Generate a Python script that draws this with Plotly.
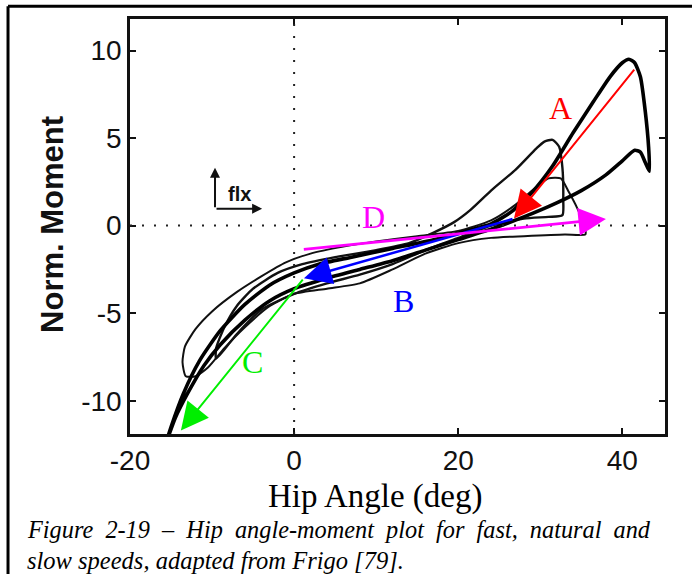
import plotly.graph_objects as go

# ---------------- data ----------------
fast_x = [-15.6, -14.5, -13.0, -11.0, -9.0, -6.0, -3.0, 0.0, 4.0, 8.0, 12.0, 16.0, 20.0, 24.0, 28.0,
          32.0, 35.0, 38.0, 40.0, 41.5, 42.2, 42.8, 43.3, 43.2, 42.8, 42.2, 41.5, 40.8, 40.0, 38.5,
          36.5, 34.0, 31.5, 29.0, 26.5, 24.0, 21.0, 17.0, 12.0, 7.0, 3.0, 0.0, -3.0, -6.0, -9.0,
          -11.5, -13.5, -15.0, -15.6]
fast_y = [-12.4, -11.0, -9.6, -8.0, -6.8, -5.4, -4.3, -3.6, -3.0, -2.5, -2.0, -1.4, -0.8, -0.2, 0.5,
          1.3, 2.0, 2.9, 3.7, 4.3, 4.2, 3.6, 3.1, 4.5, 6.5, 8.5, 9.3, 9.5, 9.3, 8.5,
          7.1, 5.3, 3.4, 1.9, 0.8, 0.1, -0.3, -0.8, -1.3, -1.8, -2.2, -2.7, -3.4, -4.5, -6.0,
          -7.7, -9.6, -11.5, -12.4]

natural_x = [-9.5, -7.0, -4.0, 0.0, 4.0, 8.0, 12.0, 16.0, 20.0, 24.0, 28.0, 31.0, 32.7, 32.8, 32.7,
             32.3, 31.5, 30.5, 29.5, 27.0, 24.0, 21.5, 19.5, 17.0, 14.0, 10.0, 5.0, 1.0, -2.0,
             -5.0, -7.0, -8.5, -9.5, -9.5]
natural_y = [-7.6, -6.2, -4.8, -3.9, -3.3, -2.8, -2.2, -1.4, -0.7, 0.0, 0.4, 0.5, 0.6, 1.5, 3.3,
             4.5, 4.9, 4.8, 4.4, 3.2, 2.0, 0.9, 0.2, -0.4, -1.0, -1.4, -1.8, -2.2, -2.7,
             -3.6, -4.6, -5.8, -7.0, -7.6]

slow_x = [-13.2, -13.6, -13.3, -12.0, -10.0, -7.0, -4.0, -1.0, 2.0, 6.0, 10.0, 15.0, 20.0, 24.0,
          27.0, 29.5, 31.0, 32.5, 33.5, 34.5, 35.4, 35.5, 33.0, 28.0, 24.0, 20.0, 16.0, 12.0, 8.0,
          4.0, 0.0, -3.0, -6.0, -8.5, -10.5, -12.0, -13.2]
slow_y = [-8.6, -7.8, -6.9, -5.9, -4.9, -3.8, -2.9, -2.1, -1.6, -1.2, -0.9, -0.6, -0.3, 0.3,
          1.2, 2.2, 2.7, 2.7, 1.9, 1.0, 0.0, -0.5, -0.5, -0.6, -0.7, -1.0, -1.6, -2.5, -3.3,
          -3.6, -3.9, -4.6, -5.8, -7.0, -8.1, -8.6, -8.6]

# phase arrows: label, tail (x, y), tip (x, y), label position, colour
arrow_labels = ["A", "B", "C", "D"]
arrow_tail_x = [41.6, 26.8, 1.2, 1.0]
arrow_tail_y = [9.0, 0.4, -3.0, -1.37]
arrow_tip_x = [26.8, 1.2, -13.8, 38.0]
arrow_tip_y = [0.4, -3.0, -11.7, 0.38]
label_x = [32.5, 13.3, -5.1, 9.7]
label_y = [6.7, -4.3, -7.8, 0.5]
arrow_colors = ["#ff0000", "#0000ff", "#00ee00", "#ff00ff"]
arrow_widths = [2.0, 2.5, 2.0, 2.8]

x_ticks = [-20, 0, 20, 40]
y_ticks = [-10, -5, 0, 5, 10]
x_range = [-20.0, 45.2]
y_range = [-11.9, 11.8]

caption_1 = "Figure 2-19 – Hip angle-moment plot for fast, natural and"
caption_2 = "slow speeds, adapted from Frigo [79]."

# ---------------- figure ----------------
fig = go.Figure()
fig.add_trace(go.Scatter(x=slow_x, y=slow_y, mode="lines",
                         line=dict(color="#111", width=2.0, shape="spline", smoothing=0.6)))
fig.add_trace(go.Scatter(x=natural_x, y=natural_y, mode="lines",
                         line=dict(color="#111", width=2.4, shape="spline", smoothing=0.6)))
fig.add_trace(go.Scatter(x=fast_x, y=fast_y, mode="lines",
                         line=dict(color="#000", width=3.6, shape="spline", smoothing=0.6)))

shapes = [
    dict(type="line", xref="x", yref="paper", x0=0, x1=0, y0=0, y1=1,
         line=dict(color="#222", width=2, dash="2px,10px")),
    dict(type="line", xref="paper", yref="y", x0=0, x1=1, y0=0, y1=0,
         line=dict(color="#222", width=2, dash="2px,10px")),
    # outer frame of the scanned figure (top and left borders)
    dict(type="line", xref="paper", yref="paper", x0=-0.228, x1=1.06, y0=1.031, y1=1.031,
         line=dict(color="#000", width=3)),
    dict(type="line", xref="paper", yref="paper", x0=-0.228, x1=-0.228, y0=1.031, y1=-0.36,
         line=dict(color="#000", width=3)),
]

annotations = []
for i in range(len(arrow_labels)):
    annotations.append(dict(x=arrow_tip_x[i], y=arrow_tip_y[i], ax=arrow_tail_x[i], ay=arrow_tail_y[i],
                            xref="x", yref="y", axref="x", ayref="y", text="", showarrow=True,
                            arrowhead=2, arrowsize=5.5 / arrow_widths[i],
                            arrowwidth=arrow_widths[i], arrowcolor=arrow_colors[i], standoff=0))
    annotations.append(dict(x=label_x[i], y=label_y[i], xref="x", yref="y", text=arrow_labels[i],
                            showarrow=False,
                            font=dict(family="Liberation Serif", size=32, color=arrow_colors[i])))

# "flx" direction icon
annotations += [
    dict(x=-9.64, y=3.3, ax=-9.64, ay=0.97, xref="x", yref="y", axref="x", ayref="y", text="",
         showarrow=True, arrowhead=2, arrowsize=1.0, arrowwidth=2, arrowcolor="#111", standoff=0),
    dict(x=-3.9, y=0.97, ax=-9.64, ay=0.97, xref="x", yref="y", axref="x", ayref="y", text="",
         showarrow=True, arrowhead=2, arrowsize=1.0, arrowwidth=2, arrowcolor="#111", standoff=0),
    dict(x=-6.7, y=1.8, xref="x", yref="y", text="<b>flx</b>", showarrow=False,
         font=dict(family="Liberation Sans", size=20, color="#111")),
]

# titles and caption (first caption line is justified in the source, so widen its spaces)
annotations += [
    dict(x=0.458, y=-0.150, xref="paper", yref="paper", text="Hip Angle (deg)", showarrow=False,
         xanchor="center", yanchor="middle",
         font=dict(family="Liberation Serif", size=33, color="#000")),
    dict(x=-0.146, y=0.506, xref="paper", yref="paper", text="<b>Norm. Moment</b>", showarrow=False,
         textangle=-90, xanchor="center", yanchor="middle",
         font=dict(family="Liberation Sans", size=31, color="#111")),
    dict(x=-0.196, y=-0.231, xref="paper", yref="paper",
         text="<i>" + caption_1.replace(" ", " \u00a0") + "</i>", showarrow=False,
         xanchor="left", yanchor="middle",
         font=dict(family="Liberation Serif", size=24.3, color="#000")),
    dict(x=-0.196, y=-0.306, xref="paper", yref="paper",
         text="<i>" + caption_2 + "</i>", showarrow=False,
         xanchor="left", yanchor="middle",
         font=dict(family="Liberation Serif", size=24.5, color="#000")),
]

axis_common = dict(showgrid=False, zeroline=False, showline=True, linecolor="#111", linewidth=2.5,
                   mirror="ticks", ticks="inside", ticklen=6, tickwidth=2, tickcolor="#111",
                   tickfont=dict(family="Liberation Sans", size=28, color="#111"))

fig.update_layout(
    width=692, height=574,
    margin=dict(l=130, r=27, t=19, b=140),
    paper_bgcolor="white", plot_bgcolor="white",
    showlegend=False,
    xaxis=dict(range=x_range, tickvals=x_ticks, ticktext=[str(v) for v in x_ticks], **axis_common),
    yaxis=dict(range=y_range, tickvals=y_ticks, ticktext=[str(v) for v in y_ticks], **axis_common),
    shapes=shapes,
    annotations=annotations,
)

fig.write_html("out.html")
